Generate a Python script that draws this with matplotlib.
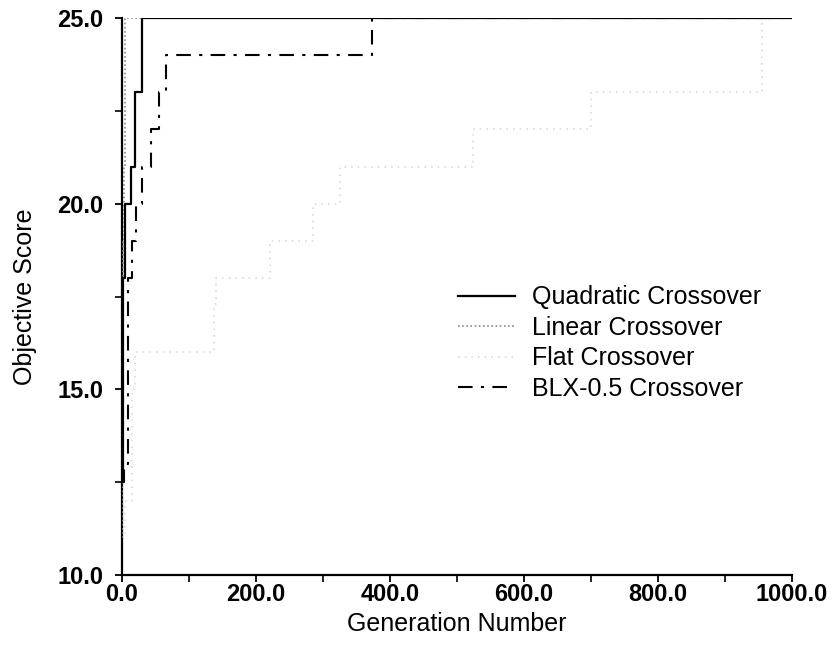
import matplotlib
matplotlib.use("Agg")
import matplotlib.pyplot as plt
from matplotlib.ticker import MultipleLocator, FormatStrFormatter

plt.rcParams['font.family'] = ['Liberation Sans', 'DejaVu Sans']

# Best objective score per generation (step changes only)
quad_gen = [0, 2, 5, 14, 20, 30, 1000]
quad_score = [12.5, 18, 20, 21, 23, 25, 25]

linear_gen = [0, 1, 2, 3, 5, 1000]
linear_score = [11, 16, 19, 21, 25, 25]

flat_gen = [0, 5, 15, 20, 138, 140, 221, 286, 326, 525, 700, 955, 1000]
flat_score = [11, 12, 15, 16, 17.3, 18, 19, 20, 21, 22, 23, 25, 25]

blx_gen = [0, 4, 10, 16, 21, 30, 43, 56, 66, 373, 1000]
blx_score = [12.5, 13, 18, 19, 20, 21, 22, 23, 24, 25, 25]

fig = plt.figure(figsize=(8.37, 6.46), dpi=100)
ax = fig.add_axes([0.1454, 0.1099, 0.8005, 0.8622])

ax.plot(flat_gen, flat_score, drawstyle='steps-post', color='#dcdcdc',
        linestyle=(0, (1, 3)), lw=1.2, label='Flat Crossover', zorder=2)
ax.plot(linear_gen, linear_score, drawstyle='steps-post', color='#8a8a8a',
        linestyle=(0, (1, 1.5)), lw=1.2, label='Linear Crossover', zorder=3)
ax.plot(blx_gen, blx_score, drawstyle='steps-post', color='black',
        linestyle=(0, (7, 4, 1.5, 4)), lw=1.5, label='BLX-0.5 Crossover', zorder=4)
ax.plot(quad_gen, quad_score, drawstyle='steps-post', color='black',
        linestyle='-', lw=1.6, label='Quadratic Crossover', zorder=5)

ax.set_xlim(0, 1000)
ax.set_ylim(10, 25)
ax.xaxis.set_major_locator(MultipleLocator(200))
ax.xaxis.set_minor_locator(MultipleLocator(100))
ax.yaxis.set_major_locator(MultipleLocator(5))
ax.yaxis.set_minor_locator(MultipleLocator(2.5))
ax.xaxis.set_major_formatter(FormatStrFormatter('%.1f'))
ax.yaxis.set_major_formatter(FormatStrFormatter('%.1f'))

for side in ('top', 'right'):
    ax.spines[side].set_visible(False)
for side in ('left', 'bottom'):
    ax.spines[side].set_linewidth(1.6)
    ax.spines[side].set_color('black')

ax.tick_params(which='major', direction='out', length=5, width=1.3,
               labelsize=17, colors='black')
ax.tick_params(which='minor', direction='out', length=5, width=1.2)
ax.tick_params(axis='x', which='major', pad=1)
ax.tick_params(axis='y', which='major', pad=8)
for lbl in ax.get_xticklabels() + ax.get_yticklabels():
    lbl.set_fontweight('bold')

ax.set_xlabel('Generation Number', fontsize=18, labelpad=4)
ax.set_ylabel('Objective Score', fontsize=18, labelpad=15)

handles, labels = ax.get_legend_handles_labels()
order = ['Quadratic Crossover', 'Linear Crossover', 'Flat Crossover', 'BLX-0.5 Crossover']
hmap = dict(zip(labels, handles))
ax.legend([hmap[k] for k in order], order, loc='center left',
          bbox_to_anchor=(458 / 837, 1 - 343 / 646), bbox_transform=fig.transFigure,
          frameon=False, fontsize=18, handlelength=2.3, handletextpad=0.65,
          labelspacing=0.26, borderpad=0, borderaxespad=0)

fig.savefig('out.png', dpi=100, facecolor='white')
